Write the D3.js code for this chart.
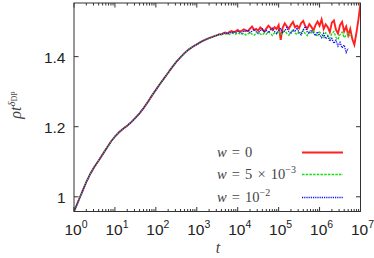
<!DOCTYPE html>
<html>
<head>
<meta charset="UTF-8">
<script src="https://cdn.jsdelivr.net/npm/d3@7"></script>
<style>
  body { margin: 0; background: #fff; }
  .tick-label { font-family: "Liberation Sans", Arial, sans-serif; fill: #222; }
  .tex { font-family: "Liberation Serif", "DejaVu Serif", serif; fill: #444; }
</style>
</head>
<body>
<svg width="374" height="258"></svg>
<script>
// log10(t) for the part where the three runs coincide
var expEarly = [0.0, 0.1, 0.2, 0.3, 0.4, 0.5, 0.6, 0.7, 0.8, 0.9,
  1.0, 1.1, 1.2, 1.3, 1.4, 1.5, 1.6, 1.7, 1.8, 1.9,
  2.0, 2.1, 2.2, 2.3, 2.4, 2.5, 2.6, 2.7, 2.8, 2.9,
  3.0, 3.1, 3.2, 3.3, 3.4];
var rhoEarly = [0.958, 0.986, 1.014, 1.042, 1.066, 1.086, 1.103, 1.121, 1.139, 1.157,
  1.172, 1.184, 1.194, 1.203, 1.213, 1.225, 1.238, 1.253, 1.270, 1.288,
  1.305, 1.322, 1.338, 1.354, 1.370, 1.385, 1.398, 1.410, 1.420, 1.428,
  1.435, 1.442, 1.448, 1.453, 1.457];

// log10(t) for the noisy tail
var expTail = [3.50, 3.55, 3.60, 3.65, 3.70, 3.75, 3.80, 3.85, 3.90, 3.95,
  4.00, 4.05, 4.10, 4.15, 4.20, 4.25, 4.30, 4.35, 4.40, 4.45,
  4.50, 4.55, 4.60, 4.65, 4.70, 4.75, 4.80, 4.85, 4.90, 4.95,
  5.00, 5.05, 5.10, 5.15, 5.20, 5.25, 5.30, 5.35, 5.40, 5.45,
  5.50, 5.55, 5.60, 5.65, 5.70, 5.75, 5.80, 5.85, 5.90, 5.95,
  6.00, 6.05, 6.10, 6.15, 6.20, 6.25, 6.30, 6.35, 6.40, 6.45,
  6.50, 6.55, 6.60, 6.65, 6.70, 6.75, 6.80, 6.85, 6.90, 6.95,
  7.00];

// w = 0
var redTail = [1.461, 1.464, 1.463, 1.467, 1.469, 1.466, 1.471, 1.473, 1.470, 1.472,
  1.476, 1.471, 1.474, 1.478, 1.475, 1.473, 1.480, 1.486, 1.476, 1.479,
  1.474, 1.483, 1.478, 1.471, 1.480, 1.488, 1.482, 1.476, 1.484, 1.479,
  1.490, 1.448, 1.483, 1.495, 1.486, 1.480, 1.491, 1.499, 1.484, 1.488,
  1.481, 1.496, 1.502, 1.487, 1.480, 1.493, 1.485, 1.474, 1.490, 1.500,
  1.488, 1.506, 1.479, 1.492, 1.484, 1.470, 1.497, 1.503, 1.477, 1.466,
  1.490, 1.499, 1.472, 1.486, 1.461, 1.479, 1.450, 1.434, 1.468, 1.506,
  1.552];

// w = 5e-3
var greenTail = [1.461, 1.463, 1.462, 1.465, 1.464, 1.466, 1.463, 1.467, 1.466, 1.464,
  1.468, 1.465, 1.463, 1.467, 1.462, 1.465, 1.469, 1.464, 1.461, 1.466,
  1.470, 1.465, 1.462, 1.467, 1.464, 1.471, 1.466, 1.460, 1.468, 1.465,
  1.472, 1.463, 1.467, 1.474, 1.466, 1.461, 1.470, 1.476, 1.467, 1.463,
  1.471, 1.468, 1.477, 1.465, 1.460, 1.472, 1.468, 1.474, 1.463, 1.458,
  1.470, 1.465, 1.455, 1.468, 1.461, 1.452, 1.466, 1.472, 1.455, 1.449,
  1.463, 1.470, 1.454, 1.461, 1.467, 1.458];

// w = 1e-2
var blueTail = [1.461, 1.464, 1.463, 1.466, 1.468, 1.465, 1.469, 1.467, 1.471, 1.468,
  1.472, 1.470, 1.467, 1.474, 1.471, 1.476, 1.469, 1.473, 1.478, 1.471,
  1.466, 1.474, 1.479, 1.470, 1.475, 1.468, 1.477, 1.481, 1.472, 1.466,
  1.476, 1.480, 1.469, 1.474, 1.483, 1.471, 1.465, 1.477, 1.473, 1.482,
  1.468, 1.462, 1.475, 1.486, 1.470, 1.465, 1.476, 1.467, 1.460, 1.471,
  1.462, 1.454, 1.466, 1.451, 1.458, 1.444, 1.452, 1.438, 1.447, 1.430,
  1.441, 1.425, 1.433, 1.412, 1.424];

var xTickExp = [0, 1, 2, 3, 4, 5, 6, 7];
var yTicks = [1, 1.2, 1.4];
var yTickLabels = ["1", "1.2", "1.4"];

var series = [
  { name: "0", color: "#ff2020", width: 1.9, dash: null, tail: redTail },
  { name: "5e-3", color: "#10e010", width: 1.3, dash: "2.5,1.2", tail: greenTail },
  { name: "1e-2", color: "#1010f0", width: 1.3, dash: "1.2,1", tail: blueTail }
];

var svg = d3.select("svg");
var pLeft = 74, pRight = 360.5, pTop = 3, pBottom = 211.5;

var x = d3.scaleLog().domain([1, 1e7]).range([pLeft, pRight]);
var y = d3.scaleLinear().domain([0.958, 1.553]).range([pBottom, pTop]);

// data lines
var line = d3.line()
  .x(function(d) { return x(Math.pow(10, d[0])); })
  .y(function(d) { return y(d[1]); });

svg.append("clipPath").attr("id", "clip")
  .append("rect").attr("x", pLeft).attr("y", pTop)
  .attr("width", pRight - pLeft).attr("height", pBottom - pTop);

var plot = svg.append("g").attr("clip-path", "url(#clip)");

series.forEach(function(s) {
  var pts = expEarly.map(function(e, i) { return [e, rhoEarly[i]]; });
  s.tail.forEach(function(v, i) { pts.push([expTail[i], v]); });
  plot.append("path")
    .datum(pts)
    .attr("fill", "none")
    .attr("stroke", s.color)
    .attr("stroke-width", s.width)
    .attr("stroke-dasharray", s.dash)
    .attr("d", line);
});

// minor log ticks
var minor = [];
for (var k = 0; k < 7; k++) {
  for (var m = 2; m <= 9; m++) minor.push(m * Math.pow(10, k));
}
var major = xTickExp.map(function(e) { return Math.pow(10, e); });

var axisG = svg.append("g").attr("stroke", "#333").attr("stroke-width", 1);
minor.forEach(function(v) {
  axisG.append("line").attr("x1", x(v)).attr("x2", x(v)).attr("y1", pBottom).attr("y2", pBottom - 2.5);
  axisG.append("line").attr("x1", x(v)).attr("x2", x(v)).attr("y1", pTop).attr("y2", pTop + 2.5);
});
major.forEach(function(v) {
  axisG.append("line").attr("x1", x(v)).attr("x2", x(v)).attr("y1", pBottom).attr("y2", pBottom - 4.5);
  axisG.append("line").attr("x1", x(v)).attr("x2", x(v)).attr("y1", pTop).attr("y2", pTop + 4.5);
});
yTicks.forEach(function(v) {
  axisG.append("line").attr("x1", pLeft).attr("x2", pLeft + 4.5).attr("y1", y(v)).attr("y2", y(v));
  axisG.append("line").attr("x1", pRight).attr("x2", pRight - 4.5).attr("y1", y(v)).attr("y2", y(v));
});

// frame
svg.append("rect")
  .attr("x", pLeft).attr("y", pTop)
  .attr("width", pRight - pLeft).attr("height", pBottom - pTop)
  .attr("fill", "none").attr("stroke", "#333").attr("stroke-width", 1);

// x tick labels 10^k
xTickExp.forEach(function(e) {
  var t = svg.append("text").attr("class", "tick-label")
    .attr("x", x(Math.pow(10, e)) + 2).attr("y", 235)
    .attr("text-anchor", "middle").attr("font-size", 15.5);
  t.append("tspan").text("10");
  t.append("tspan").attr("font-size", 10.5).attr("dy", -7).text(e);
});

// y tick labels
yTicks.forEach(function(v, i) {
  svg.append("text").attr("class", "tick-label")
    .attr("x", 65.5).attr("y", y(v) + 6)
    .attr("text-anchor", "end").attr("font-size", 15.5)
    .text(yTickLabels[i]);
});

// axis titles
svg.append("text").attr("class", "tex")
  .attr("x", 218).attr("y", 253)
  .attr("text-anchor", "middle").attr("font-size", 16).attr("font-style", "italic")
  .text("t");

var yl = svg.append("text").attr("class", "tex")
  .attr("transform", "translate(21,105) rotate(-90)")
  .attr("text-anchor", "middle").attr("font-size", 16);
yl.append("tspan").attr("font-style", "italic").text("ρt");
yl.append("tspan").attr("font-style", "italic").attr("font-size", 11).attr("dy", -6).text("δ");
yl.append("tspan").attr("font-size", 8).attr("dy", 2).text("DP");

// legend
var legY = [152.5, 174.5, 197.5];
var legText = [
  [["w", "i"], [" = 0", ""]],
  [["w", "i"], [" = 5 × 10", ""], ["−3", "sup"]],
  [["w", "i"], [" = 10", ""], ["−2", "sup"]]
];
series.forEach(function(s, i) {
  var t = svg.append("text").attr("class", "tex")
    .attr("x", 217).attr("y", legY[i] + 4.5)
    .attr("font-size", 14.5).attr("word-spacing", 1.5);
  legText[i].forEach(function(p) {
    var sp = t.append("tspan").text(p[0]);
    if (p[1] === "i") sp.attr("font-style", "italic");
    if (p[1] === "sup") sp.attr("font-size", 10).attr("dy", -6.5);
  });
  svg.append("line")
    .attr("x1", 302).attr("x2", 343)
    .attr("y1", legY[i]).attr("y2", legY[i])
    .attr("stroke", s.color).attr("stroke-width", s.width)
    .attr("stroke-dasharray", s.dash);
});
</script>
</body>
</html>
